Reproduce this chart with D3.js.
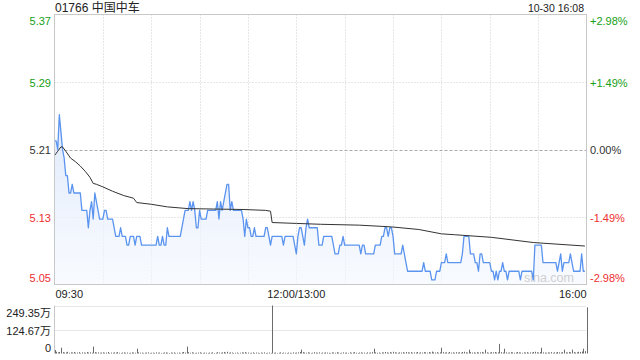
<!DOCTYPE html>
<html>
<head>
<meta charset="utf-8">
<script src="https://cdn.jsdelivr.net/npm/d3@7/dist/d3.min.js"></script>
<style>
  body { margin: 0; background: #fff; }
  svg { display: block; font-family: Arial, "Liberation Sans", "Noto Sans CJK SC", sans-serif; }
</style>
</head>
<body>
<div id="chart"></div>
<script>
const title = "01766 中国中车";
const stamp = "10-30 16:08";
const prevClose = 5.21;

const pctLevels = [2.98, 1.49, 0, -1.49, -2.98];
const priceLabels = ["5.37", "5.29", "5.21", "5.13", "5.05"];
const pctLabels = ["+2.98%", "+1.49%", "0.00%", "-1.49%", "-2.98%"];

const timeTicks = [0, 150, 330];
const timeLabels = ["09:30", "12:00/13:00", "16:00"];

const volTicks = [249.35, 124.67, 0];
const volLabels = ["249.35万", "124.67万", "0"];

// last price, one point per trading minute from 09:30
const price = [
  5.22,5.22,5.21,5.25,5.23,5.21,5.20,5.18,5.18,5.16, 5.16,5.17,5.16,5.16,5.16,5.16,5.16,5.14,5.14,5.14, 5.14,5.12,5.14,5.15,5.13,5.16,5.15,5.14,5.13,5.13,
  5.13,5.14,5.14,5.13,5.13,5.13,5.13,5.12,5.11,5.11, 5.11,5.12,5.11,5.11,5.11,5.10,5.10,5.11,5.11,5.11, 5.10,5.11,5.11,5.11,5.10,5.10,5.10,5.10,5.10,5.10,
  5.10,5.10,5.10,5.10,5.11,5.10,5.10,5.11,5.10,5.10, 5.12,5.11,5.11,5.11,5.11,5.11,5.11,5.11,5.11,5.12, 5.13,5.14,5.14,5.14,5.15,5.14,5.15,5.14,5.12,5.12,
  5.14,5.13,5.13,5.13,5.13,5.14,5.14,5.14,5.14,5.14, 5.14,5.15,5.13,5.15,5.14,5.15,5.16,5.17,5.17,5.14, 5.15,5.14,5.14,5.14,5.14,5.14,5.14,5.13,5.11,5.13,
  5.12,5.12,5.11,5.11,5.12,5.11,5.11,5.11,5.11,5.11, 5.11,5.12,5.12,5.11,5.10,5.11,5.11,5.11,5.11,5.11, 5.11,5.11,5.10,5.11,5.11,5.11,5.11,5.11,5.11,5.10,
  5.09,5.11,5.12,5.12,5.11,5.10,5.12,5.13,5.12,5.12, 5.12,5.12,5.12,5.12,5.10,5.10,5.10,5.11,5.11,5.11, 5.11,5.11,5.11,5.10,5.09,5.09,5.09,5.10,5.10,5.11,
  5.10,5.10,5.10,5.10,5.10,5.10,5.10,5.10,5.10,5.10, 5.09,5.10,5.10,5.09,5.09,5.09,5.09,5.09,5.09,5.10, 5.10,5.10,5.10,5.11,5.11,5.12,5.12,5.11,5.12,5.12,
  5.11,5.09,5.09,5.09,5.09,5.09,5.10,5.09,5.08,5.07, 5.07,5.07,5.07,5.07,5.07,5.07,5.07,5.07,5.07,5.08, 5.07,5.07,5.07,5.07,5.06,5.06,5.06,5.07,5.07,5.07,
  5.08,5.08,5.08,5.09,5.08,5.08,5.08,5.08,5.08,5.08, 5.08,5.08,5.08,5.09,5.11,5.11,5.11,5.11,5.09,5.09, 5.09,5.08,5.08,5.07,5.09,5.09,5.08,5.08,5.08,5.08,
  5.08,5.07,5.07,5.06,5.07,5.06,5.07,5.07,5.08,5.07, 5.07,5.06,5.07,5.07,5.07,5.07,5.07,5.07,5.07,5.06, 5.07,5.07,5.07,5.07,5.07,5.07,5.07,5.06,5.10,5.10,
  5.10,5.10,5.10,5.08,5.08,5.08,5.08,5.08,5.08,5.08, 5.08,5.08,5.07,5.08,5.09,5.07,5.08,5.08,5.08,5.08, 5.09,5.08,5.07,5.07,5.07,5.07,5.07,5.09,5.07,5.07
];

// average price, read at key minutes
const avgMinute = [0, 2, 4, 5, 7, 10, 13, 16, 19, 22, 24, 26, 30, 36, 43, 49, 51, 60, 70, 83, 117, 131, 134, 135, 150, 165, 189, 209, 226, 240, 248, 271, 297, 329];
const avgPrice = [5.203, 5.208, 5.213, 5.213, 5.208, 5.200, 5.196, 5.191, 5.185, 5.178, 5.171, 5.170, 5.167, 5.162, 5.157, 5.154, 5.149, 5.147, 5.144, 5.142, 5.141, 5.140, 5.139, 5.126, 5.125, 5.124, 5.123, 5.121, 5.118, 5.113, 5.112, 5.109, 5.103, 5.099];

// volume per minute, in 万 shares (last entry = closing auction)
const volume = [
  18,9,6,8,30,7,5,6,9,4, 6,5,8,4,5,7,3,6,5,4, 8,5,6,4,36,7,5,6,4,5,
  6,4,5,8,3,5,4,6,5,7, 4,3,5,6,4,5,3,4,6,5, 4,25,6,4,5,3,4,5,6,3,
  4,5,3,6,4,5,3,4,5,6, 4,3,5,4,6,3,4,5,3,6, 8,5,36,7,4,6,5,3,4,5,
  6,4,3,5,4,3,5,4,6,3, 4,7,5,4,6,8,5,9,4,6, 5,3,4,5,3,4,6,5,7,4,
  5,3,4,6,3,5,4,3,5,4, 6,3,4,5,3,249.35,4,5,3,4, 6,3,5,4,3,5,4,3,6,4,
  5,6,8,20,7,5,4,6,5,3, 4,7,5,4,6,3,5,4,6,5, 4,3,6,5,4,7,5,3,4,6,
  4,5,3,6,4,5,7,4,3,5, 6,4,5,3,6,4,5,7,25,6, 4,5,3,6,5,8,6,4,7,5,
  9,6,5,4,6,5,7,4,8,6, 5,7,4,6,5,8,4,6,5,7, 6,4,8,5,10,6,5,7,4,6,
  30,7,5,6,4,8,5,6,4,7, 5,6,4,8,9,6,5,20,7,5, 6,4,7,5,6,8,5,20,6,4,
  5,7,6,8,5,6,50,7,5,25, 6,4,5,7,6,4,5,8,6,5, 4,6,5,7,4,6,5,8,9,6,
  5,7,30,6,5,4,6,5,7,4, 6,5,8,6,5,7,20,6,5,8, 6,20,7,5,6,9,8,10,25,12, 240
];

const W = 640, H = 360;
const pLeft = 54.5, pRight = 586.5;
const pTop = 14.5, pBottom = 284.5;
const vTop = 305.5, vBottom = 353.5;
const GREEN = "#16a016", RED = "#ee2f2f", GRID = "#cfcfcf";

const svg = d3.select("#chart").append("svg")
  .attr("width", W).attr("height", H).attr("viewBox", `0 0 ${W} ${H}`);

const x = d3.scaleLinear().domain([0, 330]).range([pLeft, pRight]);
const y = d3.scaleLinear()
  .domain([prevClose * (1 - 0.0298), prevClose * (1 + 0.0298)])
  .range([pBottom, pTop]);
const yv = d3.scaleLinear().domain([0, 249.35]).range([vBottom, vTop]);

const colorOf = (p) => p > 0 ? GREEN : (p < 0 ? RED : "#333");

// header
svg.append("text").attr("x", 55).attr("y", 12)
  .attr("font-size", 12).attr("fill", "#222").text(title);
svg.append("text").attr("x", 584).attr("y", 12)
  .attr("text-anchor", "end").attr("font-size", 10.5).attr("fill", "#222").text(stamp);

// gradient under the price line
const defs = svg.append("defs");
const grad = defs.append("linearGradient").attr("id", "fillGrad")
  .attr("x1", 0).attr("y1", 0).attr("x2", 0).attr("y2", 1);
grad.append("stop").attr("offset", "0%").attr("stop-color", "#dbe7fb").attr("stop-opacity", 0.9);
grad.append("stop").attr("offset", "100%").attr("stop-color", "#f3f7fe").attr("stop-opacity", 0.6);

// grid of the price panel
const minutes = d3.range(30, 330, 30);
svg.append("g").selectAll("line").data(minutes).enter().append("line")
  .attr("x1", d => Math.round(x(d)) + 0.5).attr("x2", d => Math.round(x(d)) + 0.5)
  .attr("y1", pTop).attr("y2", pBottom)
  .attr("stroke", GRID).attr("stroke-dasharray", "1,2");

svg.append("g").selectAll("line").data(pctLevels.slice(1, 4)).enter().append("line")
  .attr("x1", pLeft).attr("x2", pRight)
  .attr("y1", d => Math.round(y(prevClose * (1 + d / 100))) + 0.5)
  .attr("y2", d => Math.round(y(prevClose * (1 + d / 100))) + 0.5)
  .attr("stroke", d => d == 0 ? "#aaa" : GRID)
  .attr("stroke-dasharray", d => d == 0 ? "3,2" : "1,2");

// area and lines
const area = d3.area()
  .x((d, i) => x(i)).y0(pBottom).y1(d => y(d));
svg.append("path").datum(price).attr("d", area).attr("fill", "url(#fillGrad)");

svg.append("text").attr("x", 574).attr("y", 282)
  .attr("text-anchor", "end").attr("font-size", 12.5).attr("fill", "#cfcfcf").text("sina.com");

const line = d3.line().x((d, i) => x(i)).y(d => y(d));
svg.append("path").datum(price).attr("d", line)
  .attr("fill", "none").attr("stroke", "#5b94ef").attr("stroke-width", 1.3)
  .attr("stroke-linejoin", "round");

const avgLine = d3.line().x(d => x(d[0])).y(d => y(d[1]));
svg.append("path").datum(avgMinute.map((m, i) => [m, avgPrice[i]])).attr("d", avgLine)
  .attr("fill", "none").attr("stroke", "#333").attr("stroke-width", 1);

// frame
svg.append("rect").attr("x", pLeft).attr("y", pTop)
  .attr("width", pRight - pLeft).attr("height", pBottom - pTop)
  .attr("fill", "none").attr("stroke", "#c8c8c8");

// side labels
pctLevels.forEach((p, i) => {
  const yy = y(prevClose * (1 + p / 100));
  const dy = i == 0 ? 10 : (i == 4 ? -3 : 4.5);
  svg.append("text").attr("x", 51).attr("y", yy + dy)
    .attr("text-anchor", "end").attr("font-size", 11).attr("fill", colorOf(p)).text(priceLabels[i]);
  svg.append("text").attr("x", 590).attr("y", yy + dy)
    .attr("font-size", 11).attr("fill", colorOf(p)).text(pctLabels[i]);
});

// time labels
timeTicks.forEach((t, i) => {
  const anchor = i == 0 ? "start" : (i == timeTicks.length - 1 ? "end" : "middle");
  svg.append("text").attr("x", x(t) + (i == 0 ? 1 : 0)).attr("y", 298)
    .attr("text-anchor", anchor).attr("font-size", 11).attr("fill", "#222").text(timeLabels[i]);
});

// volume panel
svg.append("g").selectAll("line").data(volTicks.slice(0, 2)).enter().append("line")
  .attr("x1", pLeft).attr("x2", pRight)
  .attr("y1", d => Math.round(yv(d)) + 0.5).attr("y2", d => Math.round(yv(d)) + 0.5)
  .attr("stroke", GRID).attr("stroke-dasharray", "1,1");
svg.append("line").attr("x1", pLeft).attr("x2", pLeft).attr("y1", vTop).attr("y2", vBottom)
  .attr("stroke", "#c8c8c8");

svg.append("g").selectAll("line").data(volume).enter().append("line")
  .attr("x1", (d, i) => Math.round(x(i)) + 0.5).attr("x2", (d, i) => Math.round(x(i)) + 0.5)
  .attr("y1", vBottom).attr("y2", d => yv(d))
  .attr("stroke", "#6b6b6b").attr("stroke-width", 1);

volTicks.forEach((v, i) => {
  const dy = i == 0 ? 11 : (i == volTicks.length - 1 ? -2 : 5);
  svg.append("text").attr("x", 51).attr("y", yv(v) + dy)
    .attr("text-anchor", "end").attr("font-size", 11).attr("fill", "#222").text(volLabels[i]);
});
</script>
</body>
</html>
